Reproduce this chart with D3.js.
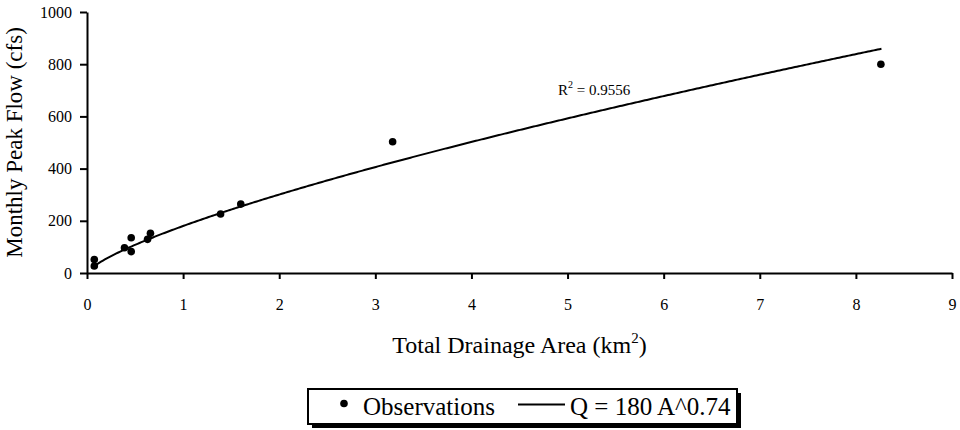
<!DOCTYPE html>
<html>
<head>
<meta charset="utf-8">
<script src="https://cdn.jsdelivr.net/npm/d3@7"></script>
<style>
  body { margin: 0; background: #fff; }
  svg { display: block; }
  svg text { font-family: "Liberation Serif", "Times New Roman", serif; fill: #000; }
</style>
</head>
<body>
<script>
// observed monthly peaks
const areas = [0.076, 0.076, 0.39, 0.46, 0.46, 0.63, 0.66, 1.39, 1.60, 3.18, 8.26];
const flows = [27, 52, 97, 135, 82, 129, 152, 226, 264, 503, 800];

// fitted power law Q = a A^b
const fitCoef = 180;
const fitExp = 0.74;
const rSquared = "0.9556";

const xTicks = [0, 1, 2, 3, 4, 5, 6, 7, 8, 9];
const yTicks = [0, 200, 400, 600, 800, 1000];

const width = 960, height = 430;
const margin = {top: 12, right: 8, bottom: 157, left: 87};
const serif = "'Liberation Serif', 'Times New Roman', serif";

const svg = d3.select("body").append("svg")
    .attr("width", width)
    .attr("height", height);

const x = d3.scaleLinear().domain([0, 9]).range([margin.left, width - margin.right]);
const y = d3.scaleLinear().domain([0, 1000]).range([height - margin.bottom, margin.top]);

// axes
const xAxis = svg.append("g")
    .attr("transform", `translate(0,${y(0)})`)
    .call(d3.axisBottom(x).tickValues(xTicks).tickFormat(d3.format("d"))
        .tickSize(6).tickPadding(20).tickSizeOuter(0));
const yAxis = svg.append("g")
    .attr("transform", `translate(${x(0)},0)`)
    .call(d3.axisLeft(y).tickValues(yTicks).tickFormat(d3.format("d"))
        .tickSize(7).tickPadding(8).tickSizeOuter(0));

[xAxis, yAxis].forEach(a => {
    a.attr("font-family", serif).attr("font-size", 16);
    a.select(".domain").attr("stroke", "#000").attr("stroke-width", 2);
    a.selectAll(".tick line").attr("stroke", "#000").attr("stroke-width", 2);
    a.selectAll(".tick text")
        .attr("fill", "#000")
        .style("font-family", serif)
        .style("font-size", "16px");
});

// axis titles
const xt = svg.append("text")
    .attr("x", (x(0) + x(9)) / 2)
    .attr("y", 353)
    .attr("text-anchor", "middle")
    .style("font-family", serif)
    .style("font-size", "24px");
xt.append("tspan").text("Total Drainage Area (km");
xt.append("tspan").attr("dy", -10).style("font-size", "15px").text("2");
xt.append("tspan").attr("dy", 10).text(")");

svg.append("text")
    .attr("transform", `translate(22,${(y(0) + y(1000)) / 2}) rotate(-90)`)
    .attr("text-anchor", "middle")
    .style("font-family", serif)
    .style("font-size", "23px")
    .text("Monthly Peak Flow (cfs)");

// trend curve
const xs = d3.range(d3.min(areas) - 0.03, d3.max(areas) + 0.015, 0.02);
const curve = d3.line()
    .x(a => x(a))
    .y(a => y(fitCoef * Math.pow(a, fitExp)));
svg.append("path")
    .datum(xs)
    .attr("d", curve)
    .attr("fill", "none")
    .attr("stroke", "#000")
    .attr("stroke-width", 2);

// points
svg.append("g").selectAll("circle")
    .data(areas.map((a, i) => [a, flows[i]]))
    .join("circle")
    .attr("cx", d => x(d[0]))
    .attr("cy", d => y(d[1]))
    .attr("r", 3.8)
    .attr("fill", "#000");

// R^2 label
const rl = svg.append("text")
    .attr("x", 558)
    .attr("y", 95)
    .style("font-family", serif)
    .style("font-size", "15px");
rl.append("tspan").text("R");
rl.append("tspan").attr("dy", -7).style("font-size", "10px").text("2");
rl.append("tspan").attr("dy", 7).text(" = " + rSquared);

// legend
const lg = {x: 308, y: 389, w: 429, h: 35};
svg.append("rect")
    .attr("x", lg.x + 4).attr("y", lg.y + 4)
    .attr("width", lg.w).attr("height", lg.h)
    .attr("fill", "#000");
svg.append("rect")
    .attr("x", lg.x).attr("y", lg.y)
    .attr("width", lg.w).attr("height", lg.h)
    .attr("fill", "#fff")
    .attr("stroke", "#000")
    .attr("stroke-width", 2);
const cy = lg.y + lg.h / 2;
svg.append("circle").attr("cx", lg.x + 36).attr("cy", cy - 3).attr("r", 3.8).attr("fill", "#000");
svg.append("text").attr("x", lg.x + 55).attr("y", cy + 8)
    .style("font-family", serif).style("font-size", "25px").text("Observations");
svg.append("line")
    .attr("x1", lg.x + 210).attr("x2", lg.x + 257)
    .attr("y1", cy - 2).attr("y2", cy - 2)
    .attr("stroke", "#000").attr("stroke-width", 2);
svg.append("text").attr("x", lg.x + 262).attr("y", cy + 8)
    .style("font-family", serif).style("font-size", "25px")
    .text(`Q = ${fitCoef} A^${fitExp}`);
</script>
</body>
</html>
